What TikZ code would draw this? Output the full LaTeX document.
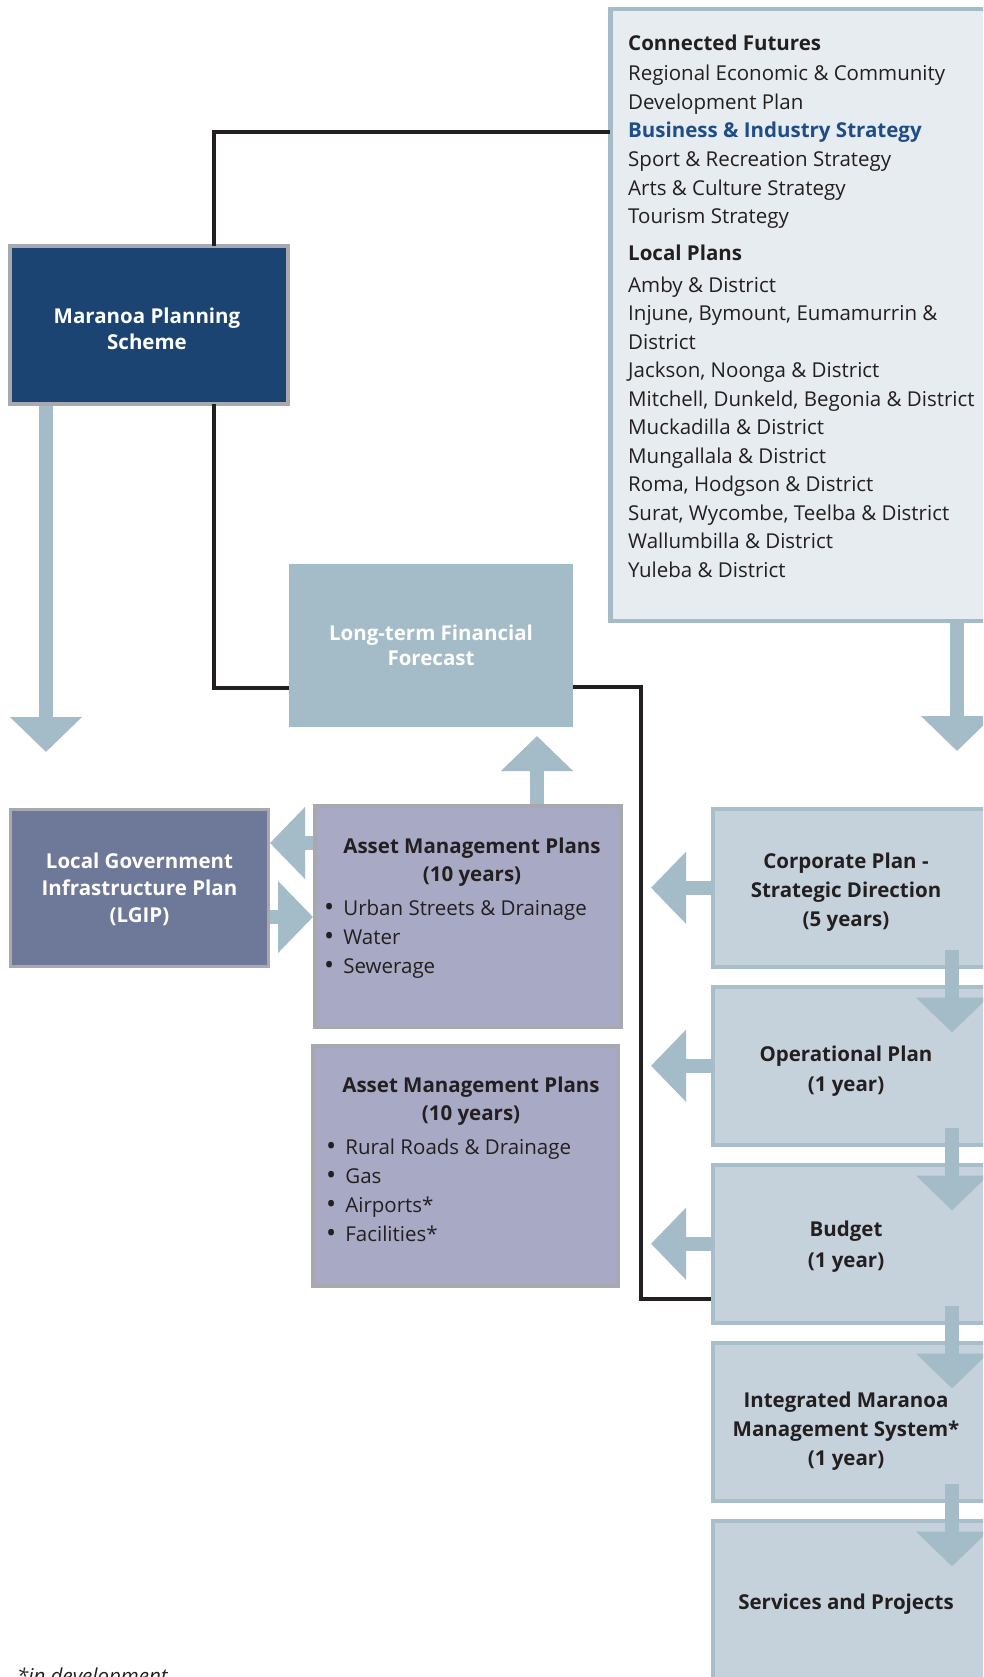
\documentclass[tikz,border=0pt]{standalone}
\usepackage{fontspec}
\setmainfont{Open Sans}
\usetikzlibrary{arrows.meta,calc}
\definecolor{navy}{HTML}{1B4473}
\definecolor{steel}{HTML}{A4BBC8}
\definecolor{pale}{HTML}{E7ECF0}
\definecolor{corpf}{HTML}{C5D2DC}
\definecolor{corpb}{HTML}{A9BECB}
\definecolor{slate}{HTML}{6E7899}
\definecolor{lav}{HTML}{A8AAC5}
\definecolor{grayb}{HTML}{A7A9AE}
\definecolor{ink}{HTML}{231F20}
\definecolor{bizblue}{HTML}{1F4E86}
\newcommand{\bl}{\raisebox{-1pt}{\fontsize{27}{27}\selectfont\textbullet}\hspace{9pt}}
\begin{document}
\begin{tikzpicture}[x=1pt,y=-1pt,
  box/.style={anchor=north west, inner sep=0pt, outer sep=0pt},
  fat/.style={draw=steel, line width=14pt, -{Triangle[length=35pt,width=70pt]}},
  conn/.style={draw=ink, line width=3.5pt},
  btxt/.style={font=\bfseries\fontsize{20.5}{28}\selectfont, align=center, text=ink, inner sep=0pt},
  wtxt/.style={btxt, text=white},
  cfbody/.style={anchor=base west, inner sep=0pt, text=ink, font=\fontsize{20.5}{28}\selectfont},
  cfhead/.style={cfbody, font=\bfseries\fontsize{20.5}{28}\selectfont},
  cfblue/.style={cfhead, text=bizblue},
  bul/.style={anchor=west, align=left, inner sep=0pt, text=ink, font=\fontsize{20.5}{29}\selectfont}
]
\useasboundingbox (0,0) rectangle (983,1677);
\clip (0,0) rectangle (983,1677);
\fill[white] (0,0) rectangle (983,1677);

% coordinates
\coordinate (jx) at (214,0);
\coordinate (ty) at (0,132);
\coordinate (ly) at (0,688);
\coordinate (ry) at (0,687);
\coordinate (vx) at (641,0);
\coordinate (by) at (0,1299);
\coordinate (tipx) at (651,0);
\coordinate (ax) at (952,0);
\coordinate (lbtip) at (46,752);
\coordinate (rbtip) at (957,751);

% boxes
\node[box, draw=grayb, line width=4pt, fill=navy, minimum width=278.5pt, minimum height=157.5pt] (mps) at (9.5,246.5) {};
\node[box, draw=steel, line width=4.5pt, fill=pale, minimum width=400pt, minimum height=611.5pt] (cf) at (610.25,9.25) {};
\node[box, fill=steel, minimum width=284pt, minimum height=163pt] (ltff) at (289,564) {};
\node[box, draw=grayb, line width=3.5pt, fill=slate, minimum width=258pt, minimum height=157pt] (lgip) at (10.25,809.25) {};
\node[box, draw=grayb, line width=3.5pt, fill=lav, minimum width=306pt, minimum height=221.5pt] (amp1) at (314.75,805.75) {};
\node[box, draw=grayb, line width=3.5pt, fill=lav, minimum width=305.5pt, minimum height=240pt] (amp2) at (312.75,1045.75) {};
\node[box, draw=corpb, line width=4pt, fill=corpf, minimum width=300pt, minimum height=157.5pt] (corp) at (713,809) {};
\node[box, draw=corpb, line width=4pt, fill=corpf, minimum width=300pt, minimum height=157.5pt] (op) at (713,987) {};
\node[box, draw=corpb, line width=4pt, fill=corpf, minimum width=300pt, minimum height=157.5pt] (bud) at (713,1165) {};
\node[box, draw=corpb, line width=4pt, fill=corpf, minimum width=300pt, minimum height=157.5pt] (imms) at (713,1343) {};
\node[box, draw=corpb, line width=4pt, fill=corpf, minimum width=300pt, minimum height=200pt] (svc) at (713,1521) {};

% big vertical arrows
\draw[fat] ($(mps.south -| lbtip)+(0,2)$) -- (lbtip);
\draw[fat] ($(cf.south -| rbtip)+(0,2.25)$) -- (rbtip);

% black connectors
\draw[conn] (mps.north -| jx) |- (cf.west |- ty);
\draw[conn] (mps.south -| jx) |- (ltff.west |- ly);
\draw[conn] (ltff.east |- ry) -| (vx |- by) -- ($(bud.west |- by)+(-2,0)$);

% small arrows
\coordinate (upx) at (537,0);
\draw[fat] ($(amp1.north -| upx)+(0,-1.75)$) -- (537,736);
\coordinate (a1y) at (0,843);
\coordinate (a2y) at (0,917);
\draw[fat] ($(amp1.west |- a1y)+(-1.75,0)$) -- ($(lgip.east |- a1y)+(1.75,0)$);
\draw[fat] ($(lgip.east |- a2y)+(1.75,0)$) -- ($(amp1.west |- a2y)+(-1.75,0)$);
\draw[fat] (corp.west) -- (corp.west -| tipx);
\draw[fat] (op.west) -- (op.west -| tipx);
\draw[fat] (bud.west) -- (bud.west -| tipx);
\draw[fat] ($(corp.south -| ax)+(0,-17)$) -- ($(op.north -| ax)+(0,45.5)$);
\draw[fat] ($(op.south -| ax)+(0,-17)$) -- ($(bud.north -| ax)+(0,45.5)$);
\draw[fat] ($(bud.south -| ax)+(0,-17)$) -- ($(imms.north -| ax)+(0,45.5)$);
\draw[fat] ($(imms.south -| ax)+(0,-17)$) -- ($(svc.north -| ax)+(0,45.5)$);

% Connected Futures texts
\foreach \y/\t/\s in {51/{Connected Futures}/cfhead,
  81/{Regional Economic \& Community}/cfbody,
  109.5/{Development Plan}/cfbody,
  138/{Business \& Industry Strategy}/cfblue,
  166.7/{Sport \& Recreation Strategy}/cfbody,
  195.4/{Arts \& Culture Strategy}/cfbody,
  224/{Tourism Strategy}/cfbody,
  261/{Local Plans}/cfhead,
  292.5/{Amby \& District}/cfbody,
  320.5/{Injune, Bymount, Eumamurrin \&}/cfbody,
  349/{District}/cfbody,
  377.5/{Jackson, Noonga \& District}/cfbody,
  406/{Mitchell, Dunkeld, Begonia \& District}/cfbody,
  434.5/{Muckadilla \& District}/cfbody,
  463/{Mungallala \& District}/cfbody,
  491.5/{Roma, Hodgson \& District}/cfbody,
  520/{Surat, Wycombe, Teelba \& District}/cfbody,
  548.6/{Wallumbilla \& District}/cfbody,
  577.3/{Yuleba \& District}/cfbody}
  \node[\s] (cf\y) at (628,\y) {\t};

% box texts
\node[wtxt, font=\bfseries\fontsize{20.5}{26}\selectfont] (mpst) at (147,328.5) {Maranoa Planning\\Scheme};
\node[wtxt, font=\bfseries\fontsize{20.5}{25}\selectfont] (ltfft) at (431,645) {Long-term Financial\\Forecast};
\node[wtxt, font=\bfseries\fontsize{20.5}{27}\selectfont] (lgipt) at (139.5,889.5) {Local Government\\Infrastructure Plan\\(LGIP)};
\node[btxt] (amp1t) at (472,862) {Asset Management Plans\\(10 years)};
\node[bul] (amp1b) at (324,939) {\bl Urban Streets \& Drainage\\\bl Water\\\bl Sewerage};
\node[btxt] (amp2t) at (471,1101) {Asset Management Plans\\(10 years)};
\node[bul] (amp2b) at (326,1191) {\bl Rural Roads \& Drainage\\\bl Gas\\\bl Airports*\\\bl Facilities*};
\node[btxt, font=\bfseries\fontsize{20.5}{29}\selectfont] (corpt) at (846,892) {Corporate Plan -\\Strategic Direction\\(5 years)};
\node[btxt, font=\bfseries\fontsize{20.5}{30}\selectfont] (opt) at (846,1071.5) {Operational Plan\\(1 year)};
\node[btxt, font=\bfseries\fontsize{20.5}{31}\selectfont] (budt) at (846,1246.5) {Budget\\(1 year)};
\node[btxt, font=\bfseries\fontsize{20.5}{29}\selectfont] (immst) at (846,1431) {Integrated Maranoa\\Management System*\\(1 year)};
\node[btxt] (svct) at (846,1604) {Services and Projects};

% footnote
\node[anchor=base west, inner sep=0pt, text=ink, font=\itshape\fontsize{20.5}{24}\selectfont] (note) at (17,1683) {*in development};
\end{tikzpicture}
\end{document}
